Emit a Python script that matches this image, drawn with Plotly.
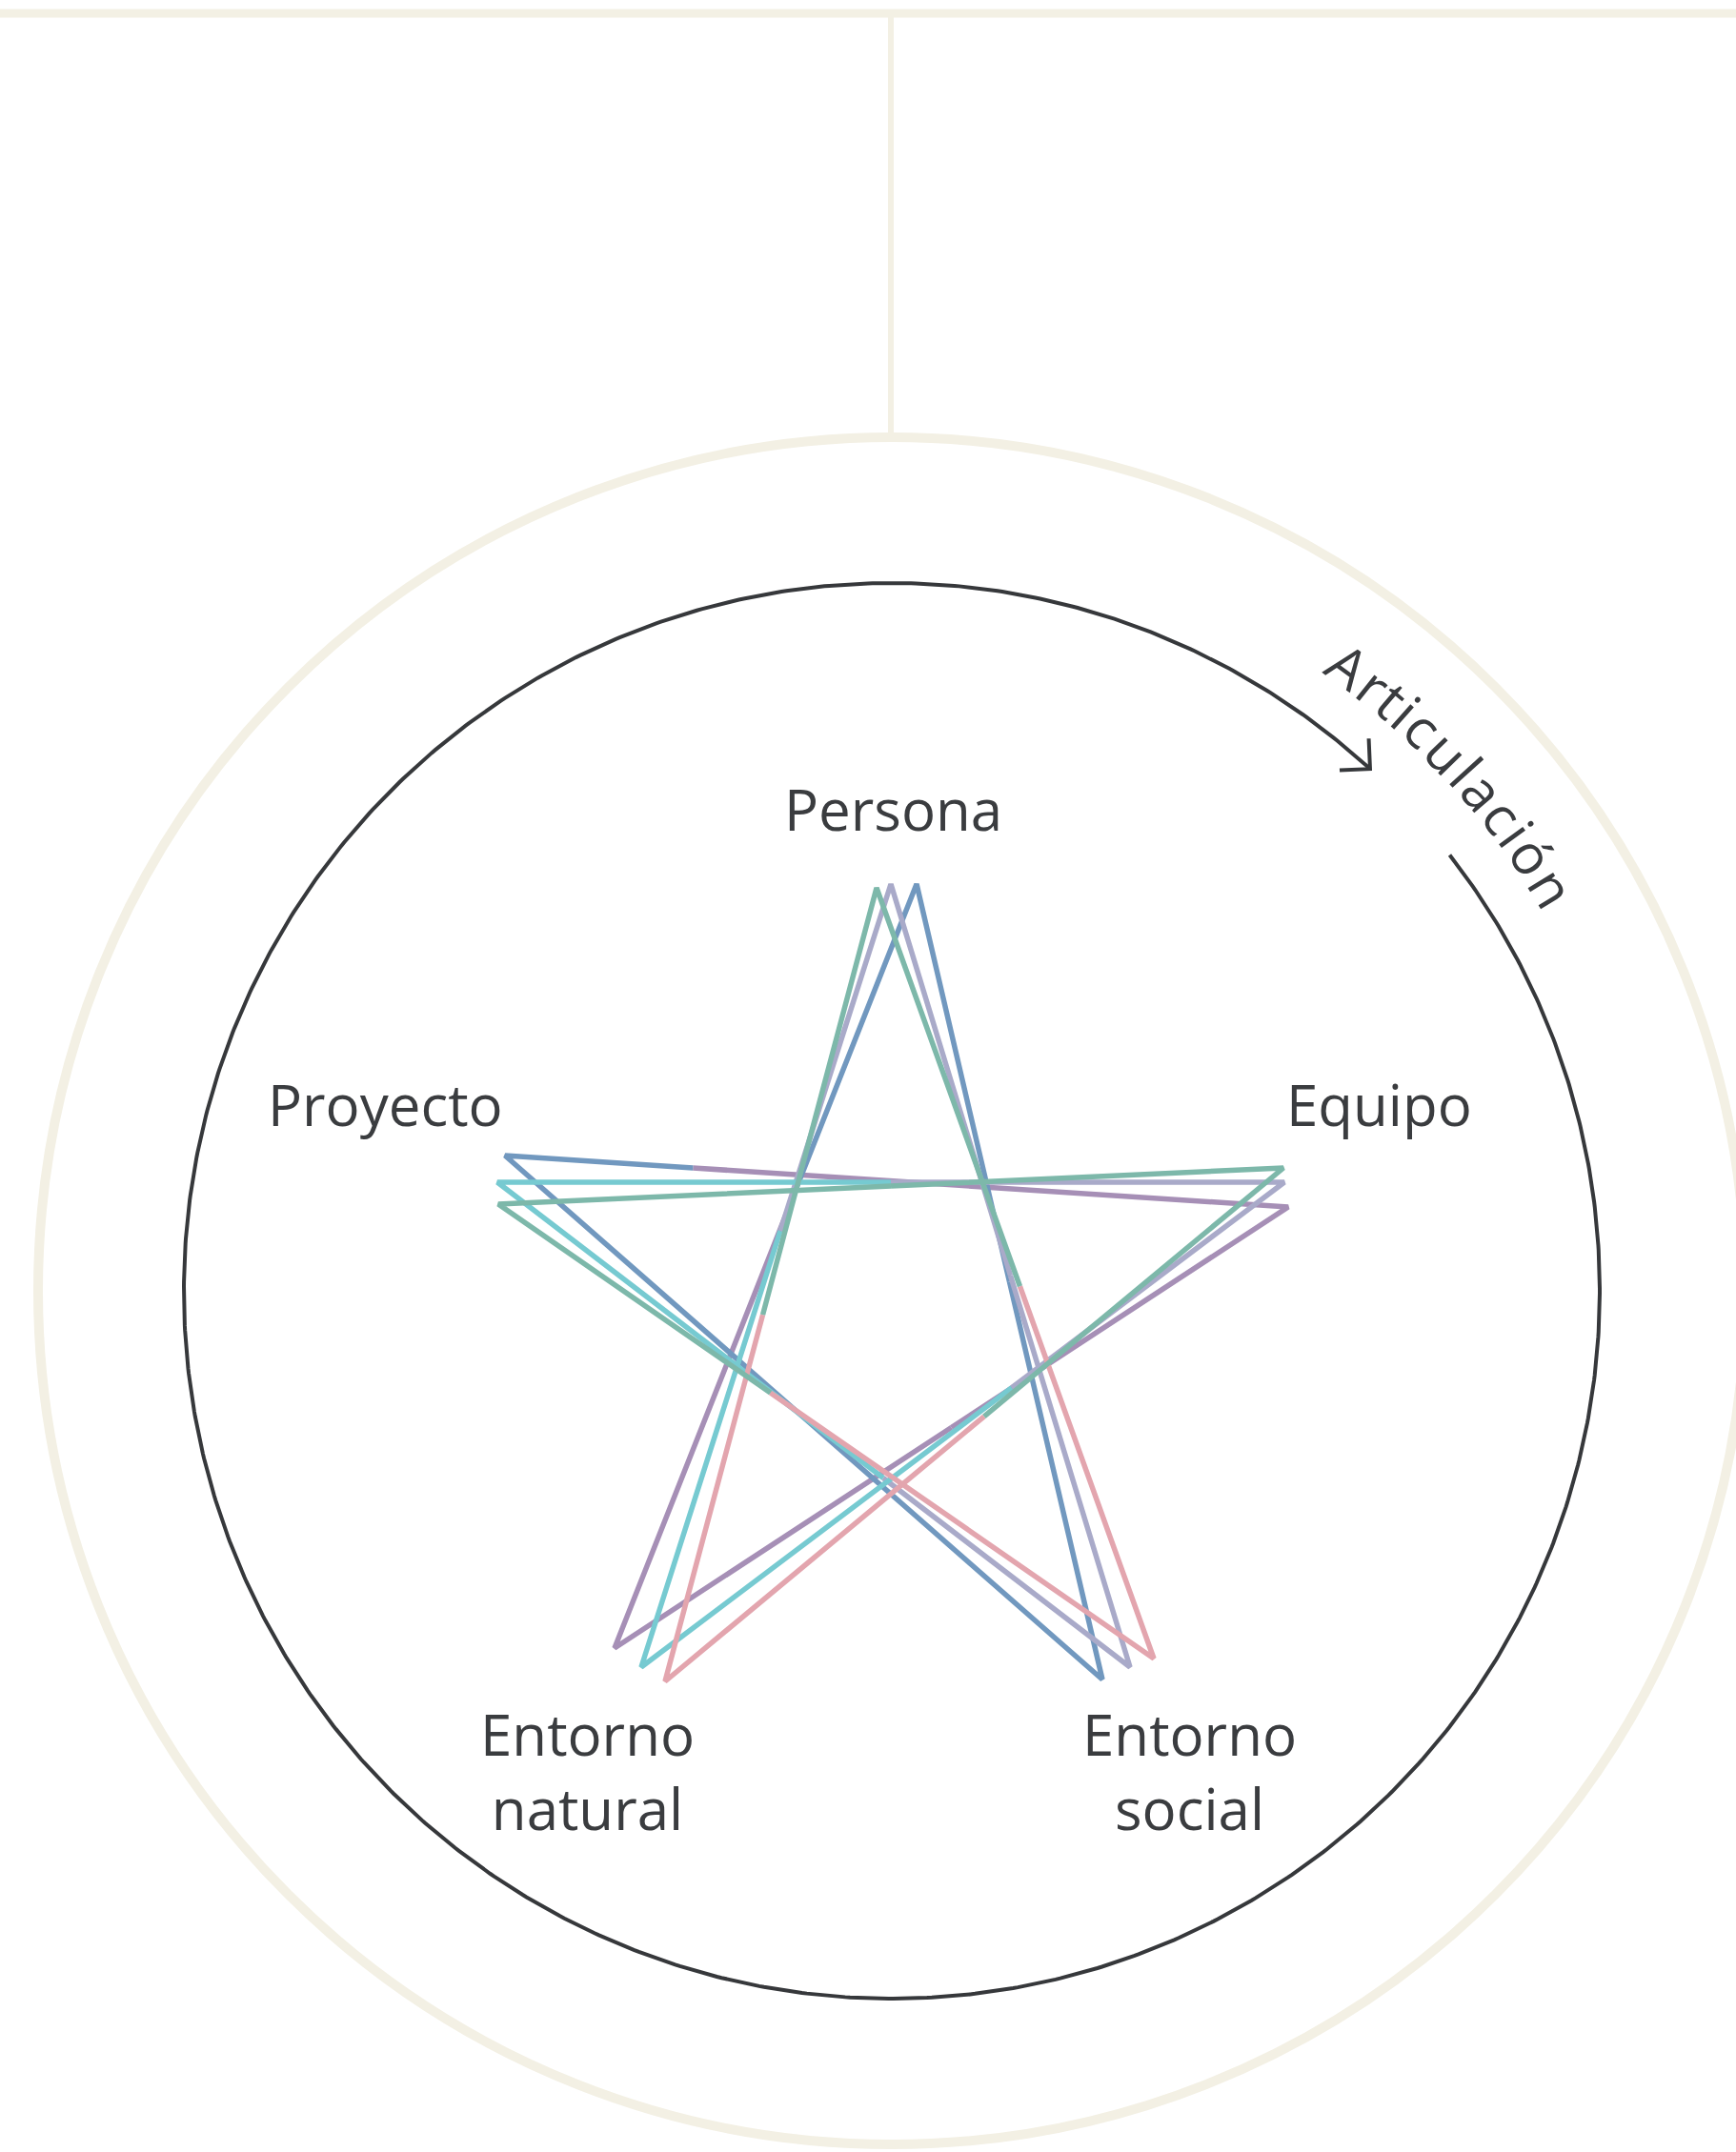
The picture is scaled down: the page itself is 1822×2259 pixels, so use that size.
import numpy as np
import plotly.graph_objects as go

W, H = 1822, 2259
CX, CY = 936.0, 1355.0
R_OUTER = 896
R_INNER = 743
TOP_LINE_Y = 14
STEM_X = 935

BEIGE = "#F3F0E4"
DARK = "#36383B"
TEXT = "#3A3C3F"
FONT = "Open Sans"

# ---------------- data ----------------
# Three overlapping pentagrams. Vertex order: Persona, Entorno social, Proyecto, Equipo, Entorno natural
star_vx = [
    [920, 1211, 523, 1347, 698],
    [935, 1186, 522, 1348, 673],
    [962, 1157, 530, 1352, 645],
]
star_vy = [
    [932, 1741, 1264, 1226, 1765],
    [928, 1750, 1241, 1241, 1750],
    [928, 1763, 1213, 1267, 1730],
]
star_vcolor = [
    ["#7DB8AA", "#E3A5AE", "#7DB8AA", "#7DB8AA", "#E3A5AE"],
    ["#A9AAC9", "#A9AAC9", "#76CAD1", "#A9AAC9", "#76CAD1"],
    ["#7198BF", "#7198BF", "#7198BF", "#A68FB6", "#A68FB6"],
]
# fraction along edge (vertex i -> vertex i+1) where the colour switches
star_split = [
    [0.517, 0.585, 0.5, 0.484, 0.462],
    [0.5, 0.39, 0.5, 0.424, 0.557],
    [0.5, 0.5, 0.24, 0.5, 0.60],
]
color_order = ["#A68FB6", "#7198BF", "#A9AAC9", "#76CAD1", "#E3A5AE", "#7DB8AA"]

# axis labels (text, x centre, vertical centre of the text block)
label_text = ["Persona", "Equipo", "Proyecto", "Entorno<br>natural", "Entorno<br>social"]
label_x = [937, 1447, 404, 616, 1248]
label_yc = [849, 1159, 1159, 1859, 1859]

# curved label
arc_text = "Articulación"
arc_glyph_w = [0.633, 0.411, 0.35, 0.258, 0.479, 0.62, 0.258, 0.556, 0.479, 0.258, 0.602, 0.62]
ARC_TXT_START, ARC_TXT_END = 34.7, 60.0
ARC_TXT_R = 813

# inner circle gap (degrees clockwise from top)
GAP_END_ARROW = 42.5
GAP_RESTART = 52.0
ARROW_LEN = 32

# ---------------- figure ----------------
fig = go.Figure()

fig.add_shape(type="line", x0=0, x1=W, y0=TOP_LINE_Y, y1=TOP_LINE_Y,
              line=dict(color=BEIGE, width=9), layer="below")
fig.add_shape(type="line", x0=STEM_X, x1=STEM_X, y0=TOP_LINE_Y, y1=CY - R_OUTER,
              line=dict(color=BEIGE, width=6), layer="below")
fig.add_shape(type="circle", x0=CX - R_OUTER, x1=CX + R_OUTER, y0=CY - R_OUTER, y1=CY + R_OUTER,
              line=dict(color=BEIGE, width=10), layer="below")

# inner circle with gap and arrow
th = np.radians(np.linspace(GAP_RESTART, GAP_END_ARROW + 360, 900))
fig.add_trace(go.Scatter(x=CX + R_INNER * np.sin(th), y=CY - R_INNER * np.cos(th),
                         mode="lines", line=dict(color=DARK, width=4), hoverinfo="skip"))
t = np.radians(GAP_END_ARROW)
tx, ty = CX + R_INNER * np.sin(t), CY - R_INNER * np.cos(t)
back = t + np.pi
a1, a2 = back - np.radians(45), back + np.radians(45)
fig.add_trace(go.Scatter(x=[tx + ARROW_LEN * np.cos(a1), tx, tx + ARROW_LEN * np.cos(a2)],
                         y=[ty + ARROW_LEN * np.sin(a1), ty, ty + ARROW_LEN * np.sin(a2)],
                         mode="lines", line=dict(color=DARK, width=4), hoverinfo="skip"))

# stars: build per-vertex V shapes, grouped by colour
paths = {c: ([], []) for c in color_order}
for s in range(len(star_vx)):
    vx, vy, vc, sp = star_vx[s], star_vy[s], star_vcolor[s], star_split[s]
    n = len(vx)
    for i in range(n):
        p = (i - 1) % n
        q = (i + 1) % n
        fp = sp[p]
        fn = sp[i]
        px_ = vx[p] + fp * (vx[i] - vx[p])
        py_ = vy[p] + fp * (vy[i] - vy[p])
        nx_ = vx[i] + fn * (vx[q] - vx[i])
        ny_ = vy[i] + fn * (vy[q] - vy[i])
        xs, ys = paths[vc[i]]
        xs += [px_, vx[i], nx_, None]
        ys += [py_, vy[i], ny_, None]
for c in color_order:
    xs, ys = paths[c]
    if xs:
        fig.add_trace(go.Scatter(x=xs, y=ys, mode="lines", line=dict(color=c, width=5.5),
                                 hoverinfo="skip", connectgaps=False))

# labels
LBL_SIZE = 60
for txt, x, yc in zip(label_text, label_x, label_yc):
    fig.add_annotation(x=x, y=yc, text=txt, showarrow=False,
                       xanchor="center", yanchor="middle", align="center",
                       font=dict(family=FONT, size=LBL_SIZE, color=TEXT))

# curved "Articulación"
ART_SIZE = 58
tot = sum(arc_glyph_w)
cum = 0.0
for ch, w in zip(arc_text, arc_glyph_w):
    frac = (cum + w / 2) / tot
    ang = ARC_TXT_START + frac * (ARC_TXT_END - ARC_TXT_START)
    r = np.radians(ang)
    fig.add_annotation(x=CX + ARC_TXT_R * np.sin(r), y=CY - ARC_TXT_R * np.cos(r), text=ch,
                       showarrow=False, xanchor="center", yanchor="middle", textangle=ang,
                       font=dict(family=FONT, size=ART_SIZE, color=TEXT))
    cum += w

fig.update_layout(
    width=W, height=H, margin=dict(l=0, r=0, t=0, b=0),
    paper_bgcolor="white", plot_bgcolor="white", showlegend=False,
    xaxis=dict(range=[0, W], visible=False, fixedrange=True),
    yaxis=dict(range=[H, 0], visible=False, fixedrange=True),
)

fig.write_html("out.html", config={"displayModeBar": False},
               post_script="document.body.style.margin='0';document.body.style.overflow='hidden';")
